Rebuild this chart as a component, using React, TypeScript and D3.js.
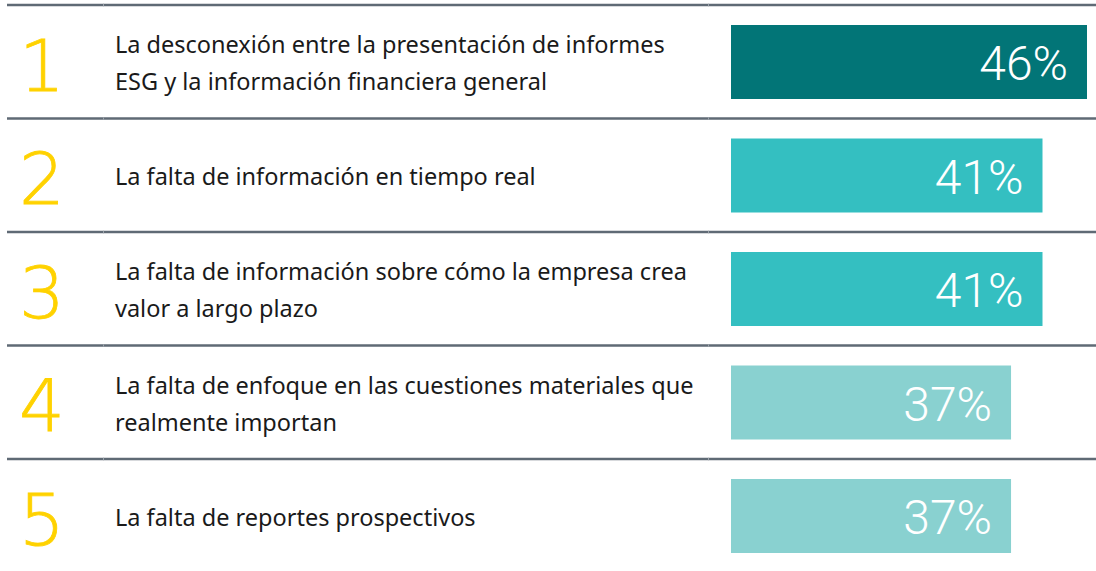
import React from "react";
import * as d3 from "d3";

const ranks = ["1", "2", "3", "4", "5"];
const labels = [
  ["La desconexión entre la presentación de informes", "ESG y la información financiera general"],
  ["La falta de información en tiempo real"],
  ["La falta de información sobre cómo la empresa crea", "valor a largo plazo"],
  ["La falta de enfoque en las cuestiones materiales que", "realmente importan"],
  ["La falta de reportes prospectivos"],
];
// labels shown rounded
const shares = [46.4, 40.6, 40.6, 36.5, 36.5];
const barColors = ["#027577", "#34BFC1", "#34BFC1", "#89D1D0", "#89D1D0"];

const W = 1096;
const H = 571;

const App = () => {
  const y = d3.scaleBand<number>()
    .domain(d3.range(ranks.length))
    .range([5, 5 + 113.5 * ranks.length]);
  const x = d3.scaleLinear().domain([0, 46.4]).range([731, 1087]);
  const fmt = (v: number) => `${Math.round(v)}%`;

  return (
    <svg width={W} height={H} style={{ position: "absolute", left: 0, top: 0 }}>
      <rect width={W} height={H} fill="#fff" />
      {ranks.map((r, i) => {
        const top = y(i)!;
        const mid = top + y.bandwidth() / 2;
        const lines = labels[i];
        return (
          <g key={`row__${i}`}>
            <line x1={7} x2={W} y1={top} y2={top} stroke="#5f6a75" strokeWidth={2.5} />
            {[103.5, 708.5].map(g => (
              <line key={g} x1={g} x2={g} y1={top - 1.25} y2={top + 1.25} stroke="#9aa2aa" strokeWidth={1} />
            ))}
            <text x={42} y={mid + 29} textAnchor="middle" fill="#FFD200"
              stroke="#FFD200" strokeWidth={0.8}
              style={{ fontFamily: "'DejaVu Sans'", fontWeight: 200, fontSize: 72 }}>
              {r}
            </text>
            {lines.map((t, j) => (
              <text key={j} x={115}
                y={mid + 10 + (j - (lines.length - 1) / 2) * 37}
                fill="#1a1a1a"
                style={{ fontFamily: "'Noto Sans'", fontSize: 23.5 }}>
                {t}
              </text>
            ))}
            <rect x={x(0)} y={top + 20} width={x(shares[i]) - x(0)} height={74} fill={barColors[i]} />
            <text x={x(shares[i]) - 19} y={top + 20 + 37 + 18} textAnchor="end" fill="#fff"
              style={{ fontFamily: "Roboto", fontWeight: 300, fontSize: 48 }}>
              {fmt(shares[i])}
            </text>
          </g>
        );
      })}
    </svg>
  );
};

export default App;
